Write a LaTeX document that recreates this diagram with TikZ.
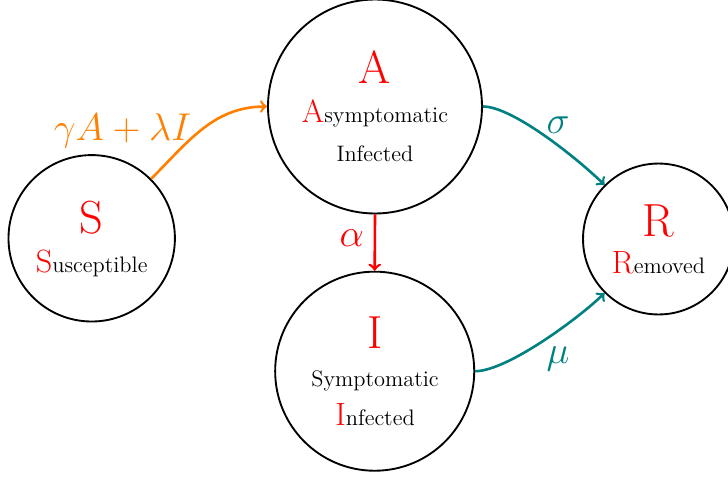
\documentclass[tikz,border=0pt]{standalone}
\begin{document}
\begin{tikzpicture}[x=0.536pt,y=-0.536pt,
  compart/.style={circle,draw=black,line width=1pt,inner sep=0pt},
  txt/.style={inner sep=0pt,anchor=base},
  bigletter/.style={txt,text=red,font=\Huge},
  flow/.style={->,line width=1.4pt},
  flowlabel/.style={txt,font=\huge}]
\useasboundingbox (0,0) rectangle (728,478);
% compartments
\node[compart,minimum size=89.2pt] (S) at (91.7,238.3) {};
\node[compart,minimum size=114.7pt] (A) at (375,106.5) {};
\node[compart,minimum size=106.7pt] (I) at (374.7,371.2) {};
\node[compart,minimum size=80.9pt] (R) at (658.5,239) {};
% texts
\node[bigletter] (St) at (91.7,233.3) {S};
\node[txt] (Sn) at (91.7,272.3) {\textcolor{red}{\LARGE S}{\large usceptible}};
\node[bigletter] (At) at (375,83.3) {A};
\node[txt] (An1) at (375,122.7) {\textcolor{red}{\LARGE A}{\large symptomatic}};
\node[txt] (An2) at (375,161) {\large Infected};
\node[bigletter] (It) at (375,348.3) {I};
\node[txt] (In1) at (375,386.7) {\large Symptomatic};
\node[txt] (In2) at (375,425) {\textcolor{red}{\LARGE I}{\large nfected}};
\node[bigletter] (Rt) at (658.5,236) {R};
\node[txt] (Rn) at (658.5,273.3) {\textcolor{red}{\LARGE R}{\large emoved}};
% flows
\draw[flow,orange] (S.45) to[out=45,in=180] (A.west);
\draw[flow,red] (A.south) -- (I.north);
\draw[flow,teal] (A.east) to[out=0,in=135,looseness=0.55] (R.135);
\draw[flow,teal] (I.east) to[out=0,in=225,looseness=0.55] (R.225);
% labels
\node[flowlabel,text=orange] (lg) at (122.5,140) {$\gamma A+\lambda I$};
\node[flowlabel,text=red] (la) at (351.7,246.7) {$\alpha$};
\node[flowlabel,text=teal] (ls) at (558,133) {$\sigma$};
\node[flowlabel,text=teal] (lm) at (558,363.3) {$\mu$};
\end{tikzpicture}
\end{document}
